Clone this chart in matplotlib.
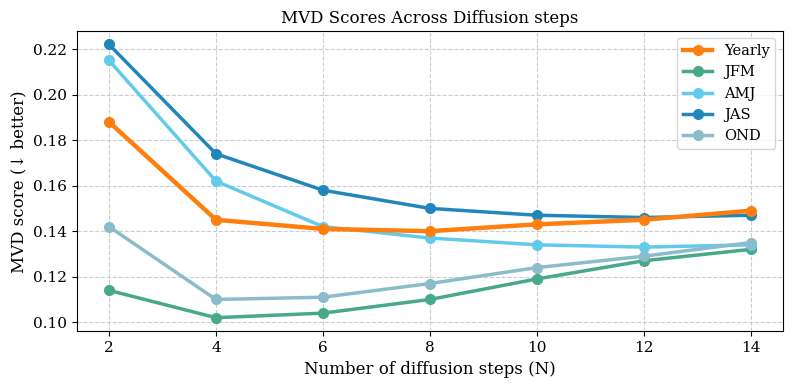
import matplotlib
matplotlib.use("Agg")
import matplotlib.pyplot as plt

# Data
steps = [2, 4, 6, 8, 10, 12, 14]
yearly = [0.188, 0.145, 0.141, 0.140, 0.143, 0.145, 0.149]
jfm = [0.114, 0.102, 0.104, 0.110, 0.119, 0.127, 0.132]
amj = [0.215, 0.162, 0.142, 0.137, 0.134, 0.133, 0.134]
jas = [0.222, 0.174, 0.158, 0.150, 0.147, 0.146, 0.147]
ond = [0.142, 0.110, 0.111, 0.117, 0.124, 0.129, 0.135]

plt.rcParams['font.family'] = ['DejaVu Serif']

fig, ax = plt.subplots(figsize=(7.93, 3.88), dpi=100)

ax.plot(steps, yearly, marker='o', markersize=7, linewidth=3.2, color='#ff7f0e', label='Yearly', zorder=5)
ax.plot(steps, jfm, marker='o', markersize=7, linewidth=2.5, color='#47a98a', label='JFM')
ax.plot(steps, amj, marker='o', markersize=7, linewidth=2.5, color='#62cbeb', label='AMJ')
ax.plot(steps, jas, marker='o', markersize=7, linewidth=2.5, color='#2187bb', label='JAS')
ax.plot(steps, ond, marker='o', markersize=7, linewidth=2.5, color='#8bbccc', label='OND')

ax.set_title('MVD Scores Across Diffusion steps', fontsize=12)
ax.set_xlabel('Number of diffusion steps (N)', fontsize=12)
ax.set_ylabel('MVD score (↓ better)', fontsize=12)
ax.set_xticks(steps)
ax.set_ylim(0.0960, 0.2279)
ax.set_yticks([0.10, 0.12, 0.14, 0.16, 0.18, 0.20, 0.22])
ax.tick_params(labelsize=11)
ax.grid(True, linestyle='--', color='#cccccc', linewidth=0.8)
ax.legend(loc='upper right', fontsize=10.5)

plt.subplots_adjust(left=0.097, right=0.987, top=0.92, bottom=0.146)
plt.savefig('out.png', dpi=100)
